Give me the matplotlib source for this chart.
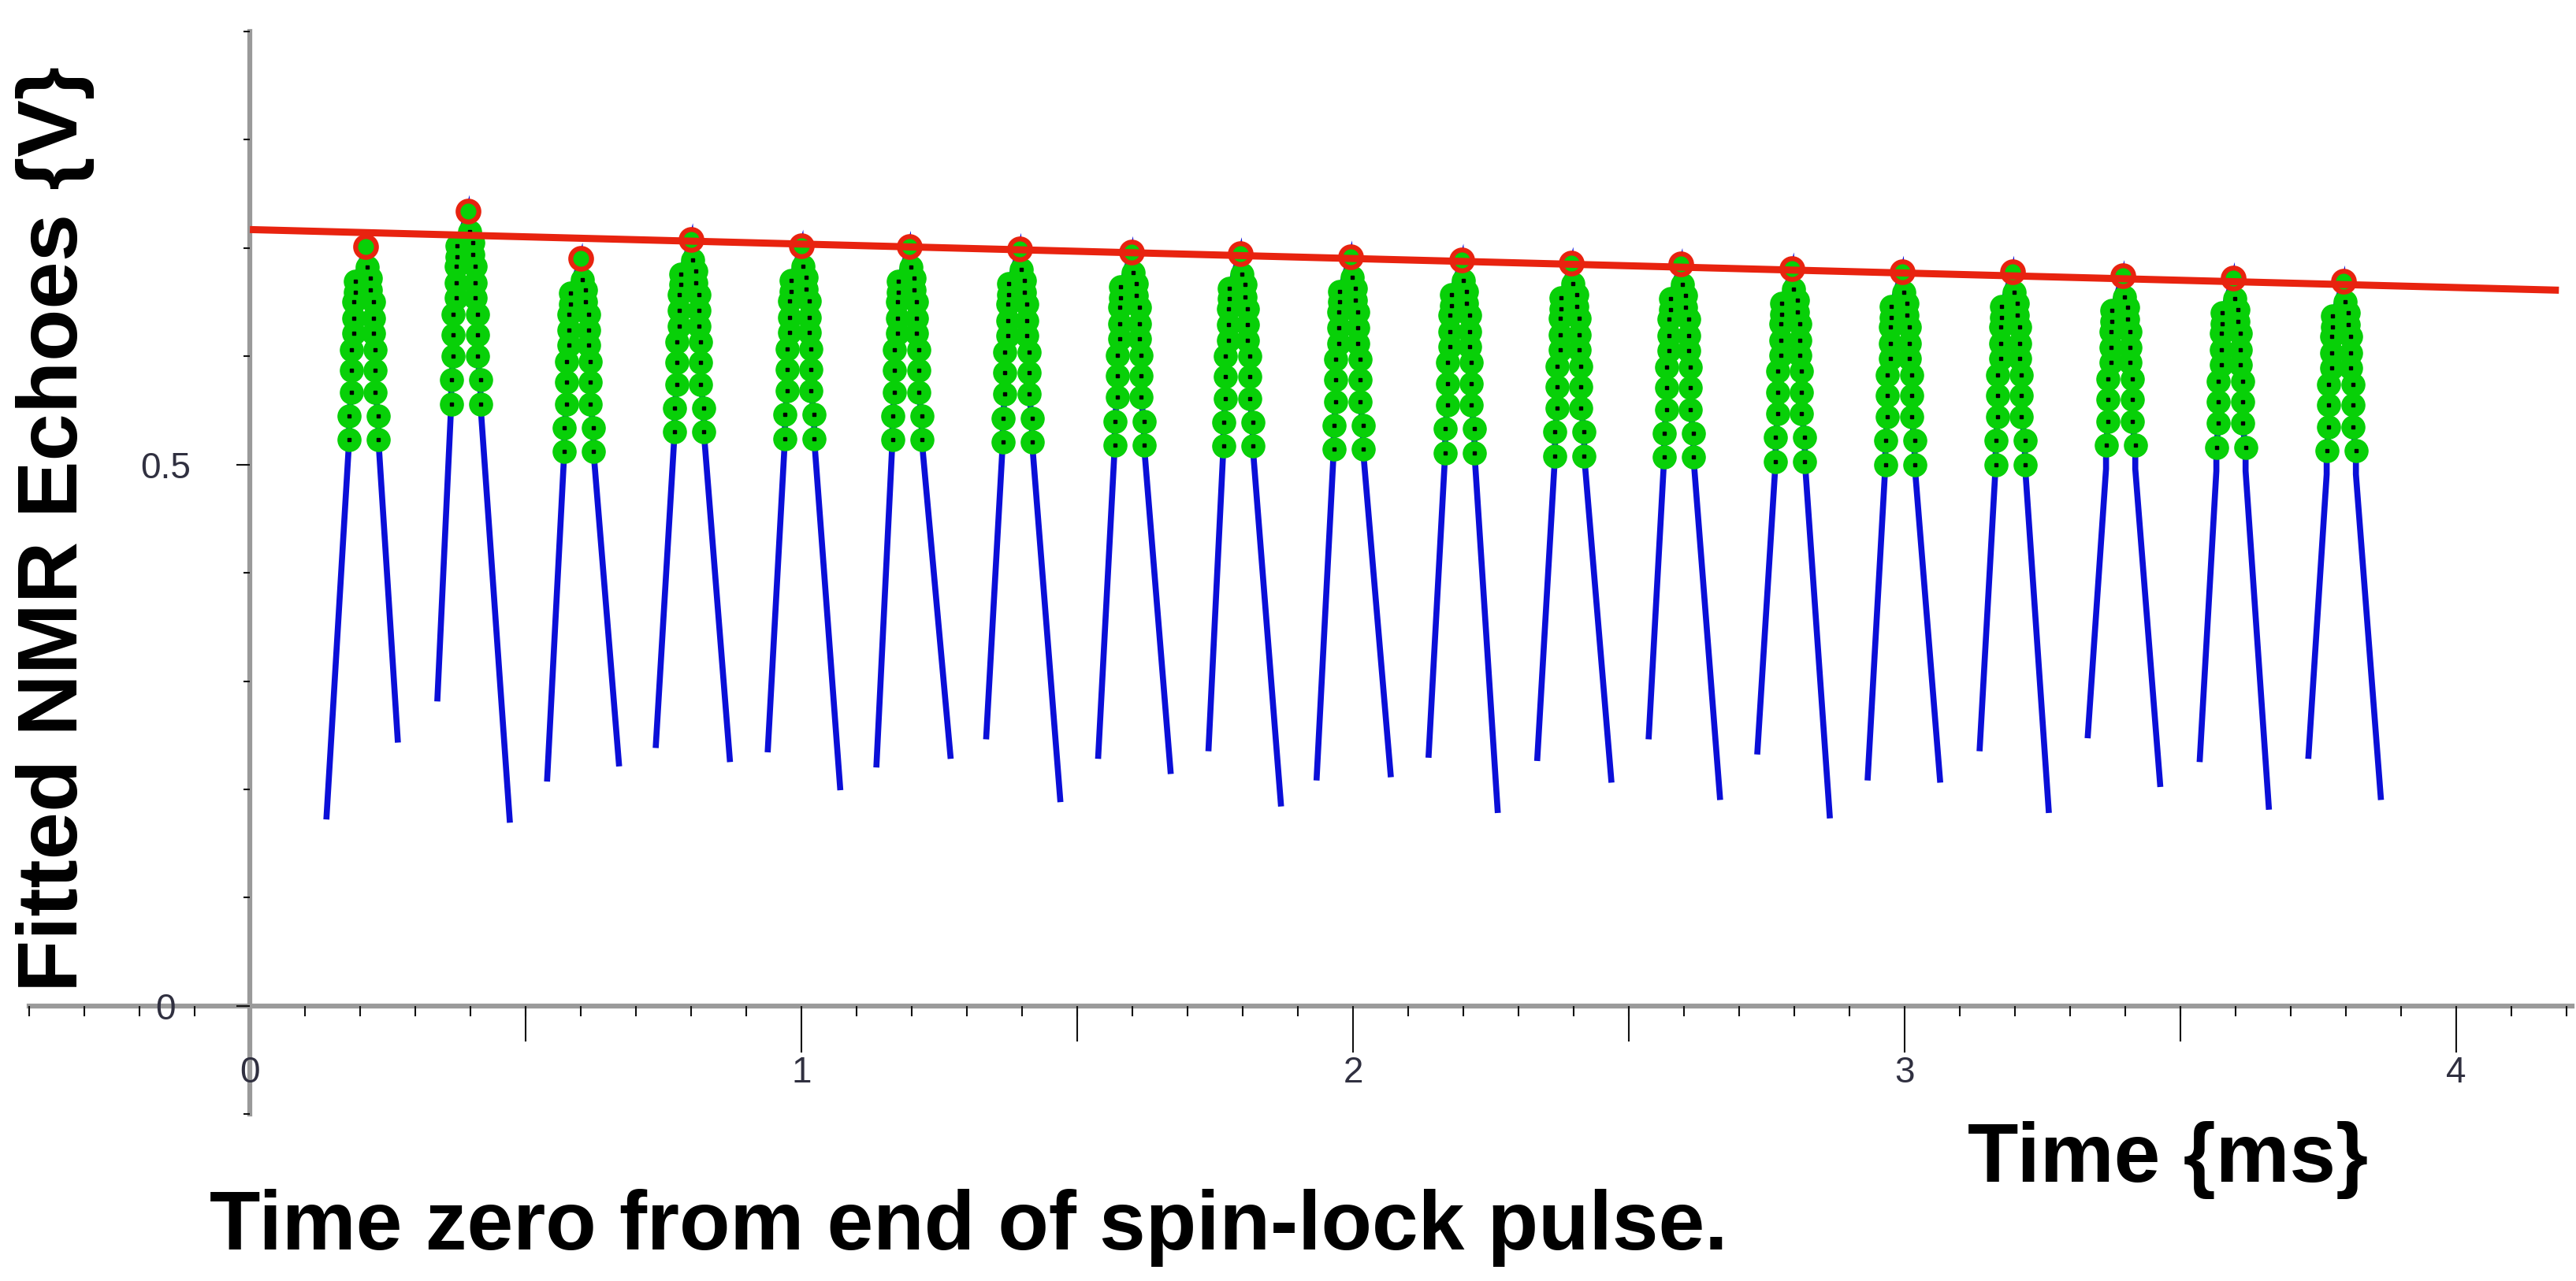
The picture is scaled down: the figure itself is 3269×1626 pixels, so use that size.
import matplotlib
matplotlib.use("Agg")
import matplotlib.pyplot as plt
from matplotlib.ticker import FixedLocator
import numpy as np

# echo peaks (fitted maxima)
echo_t = [0.21, 0.395, 0.60, 0.80, 1.00, 1.195, 1.395, 1.598, 1.795, 1.995,
          2.197, 2.396, 2.594, 2.796, 2.995, 3.195, 3.395, 3.595, 3.795]
echo_peak = [0.701, 0.734, 0.690, 0.708, 0.702, 0.701, 0.699, 0.696, 0.695, 0.692,
             0.689, 0.686, 0.685, 0.681, 0.678, 0.678, 0.674, 0.672, 0.669]

# start / end of each recorded echo window
left_t = [0.139, 0.340, 0.539, 0.736, 0.939, 1.136, 1.335, 1.538, 1.738, 1.934,
          2.137, 2.334, 2.536, 2.733, 2.933, 3.136, 3.332, 3.535, 3.732]
left_v = [0.175, 0.284, 0.210, 0.241, 0.237, 0.223, 0.249, 0.231, 0.238, 0.211,
          0.232, 0.229, 0.249, 0.235, 0.211, 0.238, 0.250, 0.228, 0.231]
right_t = [0.268, 0.471, 0.669, 0.870, 1.070, 1.270, 1.469, 1.669, 1.869, 2.068,
           2.262, 2.468, 2.665, 2.864, 3.064, 3.261, 3.463, 3.660, 3.863]
right_v = [0.246, 0.172, 0.224, 0.228, 0.202, 0.231, 0.191, 0.217, 0.187, 0.214,
           0.181, 0.209, 0.193, 0.176, 0.209, 0.181, 0.205, 0.184, 0.193]

# lowest level used in the fit, per echo
green_floor = [0.52, 0.556, 0.51] + [0.50] * 16

left_dt = [-0.030, -0.030, -0.026, -0.026, -0.026, -0.021, -0.021, -0.021, -0.019, -0.019]
left_dv = [-0.178, -0.156, -0.134, -0.114, -0.095, -0.080, -0.066, -0.051, -0.042, -0.032]
right_dt = [0.003, 0.009, 0.009, 0.014, 0.014, 0.014, 0.017, 0.017, 0.017, 0.023, 0.023]
right_dv = [-0.019, -0.029, -0.040, -0.051, -0.066, -0.080, -0.095, -0.114, -0.134, -0.156, -0.178]

# decay fit through the peaks
fit_t = [0.0, 4.186]
fit_v = [0.717, 0.661]

BLUE = "#0b0fd8"
GREEN = "#08d008"
RED = "#e8230f"

fig = plt.figure(figsize=(32.69, 16.26), dpi=100)
ax = fig.add_axes([0, 0, 1, 1])
ax.set_xlim(-0.453, 4.217)
ax.set_ylim(-0.254, 0.929)

for i in range(len(echo_t)):
    tp, vp = echo_t[i], echo_peak[i]
    lt = [tp + d for d in left_dt]
    lv = [vp + d for d in left_dv]
    rt = [tp + d for d in right_dt]
    rv = [vp + d for d in right_dv]
    xs = [left_t[i]] + lt + [tp] + rt + [right_t[i]]
    ys = [left_v[i]] + lv + [vp] + rv + [right_v[i]]
    ax.plot(xs, ys, color=BLUE, lw=5.5, zorder=2, solid_joinstyle="miter")
    gx = [x for x, y in zip(lt + rt, lv + rv) if y >= green_floor[i]]
    gy = [y for y in lv + rv if y >= green_floor[i]]
    ax.plot(gx + [tp], gy + [vp], "o", ms=21, color=GREEN, mec=GREEN, zorder=3)
    ax.plot(gx, gy, "s", ms=2.6, color="black", mec="black", zorder=4)

ax.plot(fit_t, fit_v, color=RED, lw=6.5, zorder=5, solid_capstyle="butt")
ax.plot(echo_t, echo_peak, "o", ms=19, mfc="none", mec=RED, mew=4.5, zorder=6)

# axes crossing at the origin
for s in ["top", "right"]:
    ax.spines[s].set_visible(False)
ax.spines["left"].set_position(("data", 0))
ax.spines["bottom"].set_position(("data", 0))
ax.spines["left"].set_bounds(-0.1, 0.9)
ax.spines["bottom"].set_bounds(-0.40, 4.21)
for s in ["left", "bottom"]:
    ax.spines[s].set_color("#9a9a9a")
    ax.spines[s].set_linewidth(4.5)
    ax.spines[s].set_zorder(1)

tick_font = ["Liberation Sans Narrow", "Liberation Sans"]

ax.xaxis.set_major_locator(FixedLocator([0, 1, 2, 3, 4]))
ax.xaxis.set_minor_locator(FixedLocator(np.round(np.arange(-0.4, 4.25, 0.1), 2)))
ax.set_xticklabels(["0", "1", "2", "3", "4"], family=tick_font, fontsize=33, color="#303040")
ax.tick_params(axis="x", which="major", direction="out", length=42.5, width=1.5,
               color="#111111", pad=3)
ax.tick_params(axis="x", which="minor", direction="out", length=9.4, width=1.5,
               color="#111111")
ax.xaxis.get_major_ticks()[0].tick1line.set_visible(False)
ax.vlines([0.5, 1.5, 2.5, 3.5], -0.0328, 0, color="#111111", lw=1.5, zorder=1.5)

ax.yaxis.set_major_locator(FixedLocator([0, 0.5]))
ax.yaxis.set_minor_locator(FixedLocator(np.round(np.arange(-0.1, 0.95, 0.1), 2)))
ax.set_yticklabels(["0", "0.5"], family=tick_font, fontsize=33, color="#303040")
ax.tick_params(axis="y", which="major", direction="out", length=12, width=1.5,
               color="#111111", pad=65)
ax.tick_params(axis="y", which="minor", direction="out", length=6, width=1.5,
               color="#111111")
for lab in ax.get_yticklabels():
    lab.set_horizontalalignment("center")

W, H = 3269.0, 1626.0
fig.text(70 / W, 1 - 672 / H, "Fitted NMR Echoes {V}", rotation=90, ha="center", va="center",
         family="Liberation Sans", fontweight="bold", fontsize=78)
fig.text(2497 / W, 1 - 1500 / H, "Time {ms}", ha="left", va="baseline",
         family="Liberation Sans", fontweight="bold", fontsize=76)
fig.text(266 / W, 1 - 1586 / H, "Time zero from end of spin-lock pulse.", ha="left", va="baseline",
         family="Liberation Sans", fontweight="bold", fontsize=76)

fig.savefig("out.png", dpi=100, facecolor="white")
